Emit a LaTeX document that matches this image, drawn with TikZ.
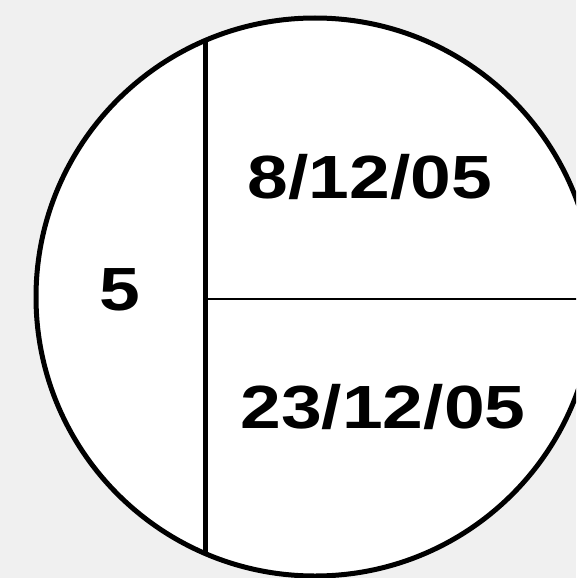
\documentclass[tikz,border=0pt]{standalone}
\usepackage{fontspec}
\setmainfont{Liberation Sans}
\usetikzlibrary{positioning,calc}
\definecolor{paper}{RGB}{240,240,240}

\tikzset{
  datelabel/.style={font=\bfseries\fontsize{61}{61}\selectfont,inner sep=0pt,xscale=1.2},
}

\begin{document}
\begin{tikzpicture}[x=1pt,y=-1pt]
    \useasboundingbox (0,0) rectangle (576,578);
    \fill[paper] (0,0) rectangle (576,578);
    \clip (0,0) rectangle (576,578);
    \coordinate (centre) at (315,297);
    \fill[white] (centre) circle[radius=279];
    \begin{scope}
      \clip (centre) circle[radius=279];
      \coordinate (split top) at (205,0);
      \coordinate (split bottom) at (205,578);
      \coordinate (mid left) at (205,299);
      \coordinate (mid right) at (600,299);
      \draw[line width=5pt] (split top)--(split bottom);
      \draw[line width=2pt] (mid left)--(mid right);
    \end{scope}
    \draw[line width=5pt] (centre) circle[radius=279];
    \node[datelabel] (count) at (120,290){5};
    \node[datelabel] (first) at (370,177){8/12/05};
    \node[datelabel] (second) at (383,407){23/12/05};
  \end{tikzpicture}
\end{document}
